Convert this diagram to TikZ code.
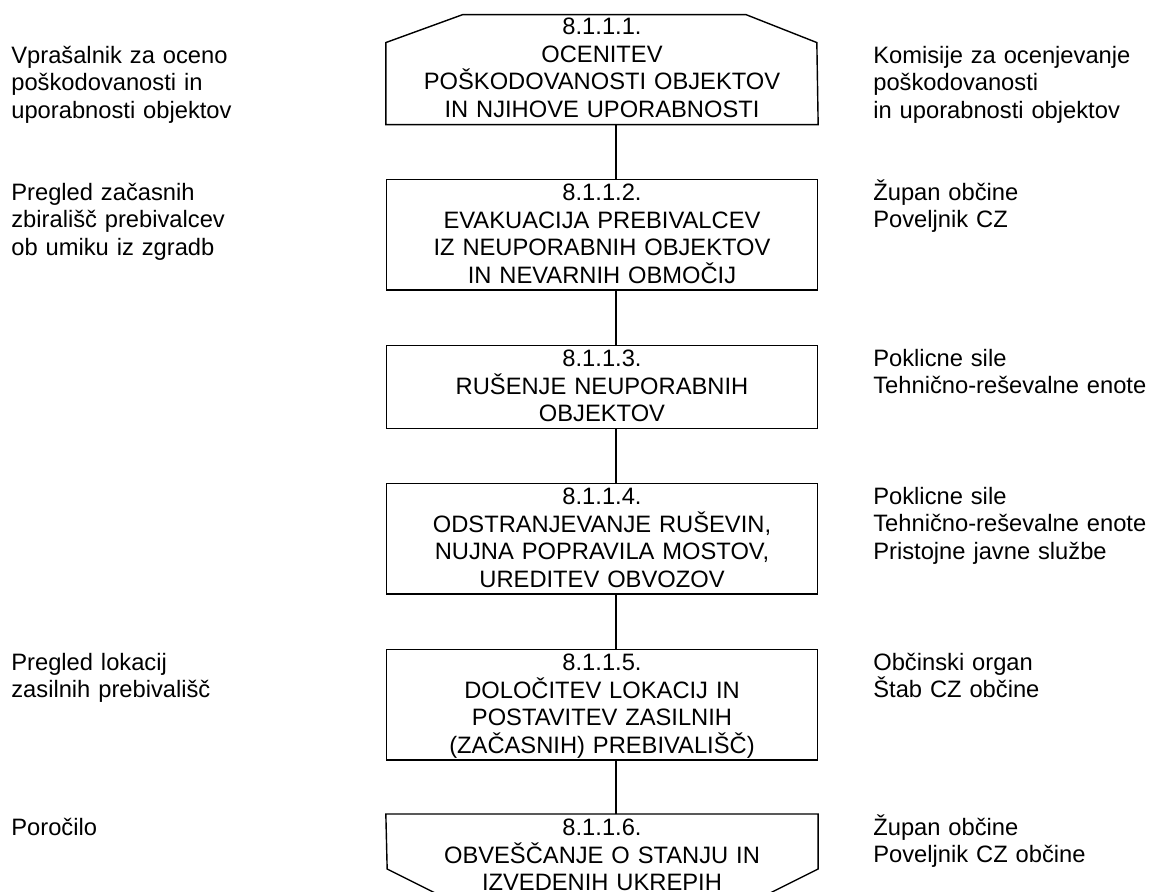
\documentclass[tikz,border=0pt]{standalone}
\usepackage{fontspec}
\setmainfont{Liberation Sans}
\newcommand{\kzacetek}{\lineskiplimit=-20pt\relax}
\newcommand{\kkonec}{\rule[-3.75pt]{0pt}{3.75pt}}
\tikzset{
  korak/.style={inner sep=0pt,text width=8.62cm,align=center,line width=0.8pt,
    text height=12pt,execute at begin node=\kzacetek,execute at end node=\kkonec},
  opis/.style={inner sep=0pt,anchor=north west,text width=5.6cm,align=left,text height=12pt,
    execute at begin node=\kzacetek},
}
\begin{document}
\begin{tikzpicture}[x=0.02cm,y=-0.02cm,font=\fontsize{13.5pt}{15.65pt}\selectfont]
\useasboundingbox (0,0) rectangle (1154,892);
\pgfmathsetmacro{\kcx}{602}
\pgfmathsetmacro{\klx}{11}
\pgfmathsetmacro{\krx}{873}
\coordinate (spine) at (616,0);
% koraki
\node[korak,anchor=north] (b1) at (\kcx,13) {8.1.1.1.\\OCENITEV\\POŠKODOVANOSTI OBJEKTOV\\IN NJIHOVE UPORABNOSTI};
\node[korak,draw,anchor=north] (b2) at (\kcx,179) {8.1.1.2.\\EVAKUACIJA PREBIVALCEV\\IZ NEUPORABNIH OBJEKTOV\\IN NEVARNIH OBMOČIJ};
\node[korak,draw,anchor=north] (b3) at (\kcx,345) {8.1.1.3.\\RUŠENJE NEUPORABNIH\\OBJEKTOV};
\node[korak,draw,anchor=north] (b4) at (\kcx,483) {8.1.1.4.\\ODSTRANJEVANJE RUŠEVIN,\\NUJNA POPRAVILA MOSTOV,\\UREDITEV OBVOZOV};
\node[korak,draw,anchor=north] (b5) at (\kcx,649) {8.1.1.5.\\DOLOČITEV LOKACIJ IN\\POSTAVITEV ZASILNIH\\(ZAČASNIH) PREBIVALIŠČ)};
\node[korak,anchor=north] (b6) at (\kcx,814) {8.1.1.6.\\OBVEŠČANJE O STANJU IN\\IZVEDENIH UKREPIH};
\draw[line width=0.8pt] (b1.south west) -- ++(0,-82) -- ++(77,-28) -- ++(283,0) -- ++(71,28) -- (b1.south east) -- cycle;
\draw[line width=0.8pt] (b6.north west) -- (b6.north east) -- ++(0,55) -- ++(-56,28) -- ++(-319,0) -- ++(-56,-28) -- cycle;
\foreach \ka/\kb in {b1/b2,b2/b3,b3/b4,b4/b5,b5/b6}{\draw[line width=0.8pt] (\ka.south -| spine) -- (\kb.north -| spine);}
% dokumenti
\foreach \kn/\ky/\kt in {1/42/{Vprašalnik za oceno\\poškodovanosti in\\uporabnosti objektov},2/179/{Pregled začasnih\\zbirališč prebivalcev\\ob umiku iz zgradb},5/649/{Pregled lokacij\\zasilnih prebivališč},6/814/{Poročilo}}{\node[opis] (l\kn) at (\klx,\ky) {\kt};}
% nosilci
\foreach \kn/\ky/\kt in {1/42/{Komisije za ocenjevanje\\poškodovanosti\\in uporabnosti objektov},2/179/{Župan občine\\Poveljnik CZ},3/345/{Poklicne sile\\Tehnično-reševalne enote},4/483/{Poklicne sile\\Tehnično-reševalne enote\\Pristojne javne službe},5/649/{Občinski organ\\Štab CZ občine},6/814/{Župan občine\\Poveljnik CZ občine}}{\node[opis] (r\kn) at (\krx,\ky) {\kt};}
\end{tikzpicture}
\end{document}
